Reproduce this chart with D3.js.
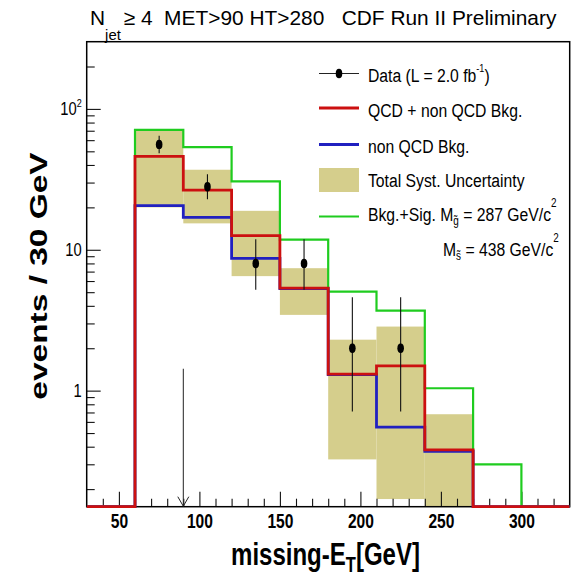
<!DOCTYPE html>
<html>
<head>
<meta charset="utf-8">
<script src="https://cdn.jsdelivr.net/npm/d3@7"></script>
<style>
  html, body { margin: 0; padding: 0; background: #fff; }
  svg { display: block; font-family: "Liberation Sans", Arial, Helvetica, sans-serif; }
  text { white-space: pre; }
</style>
</head>
<body>
<svg id="chart" width="576" height="577"></svg>
<script>
// Missing-ET spectrum, N_jet >= 4, 30 GeV bins
const binEdges    = [30, 60, 90, 120, 150, 180, 210, 240, 270, 300, 330];
const sigPlusBkg  = [0, 71, 53.5, 30.6, 11.8, 5.05, 3.7, 1.04, 0.30, 0];
const totalBkg    = [0, 46, 26.5, 12.6, 5.35, 1.31, 1.5, 0.38, 0, 0];
const nonQcdBkg   = [0, 20.6, 17.0, 8.7, 5.3, 1.3, 0.55, 0.37, 0, 0];
const systLow     = [null, 20.0, 15.4, 6.5, 3.45, 0.325, 0.17, 0, null, null];
const systHigh    = [null, 70.5, 37, 18.9, 7.4, 2.3, 2.85, 0.68, null, null];

const dataMet     = [75, 105, 135, 165, 195, 225];
const dataCounts  = [56, 28, 8, 8, 2, 2];
const dataErrLow  = [48.5, 22.8, 5.2, 5.2, 0.71, 0.71];
const dataErrHigh = [64.5, 34.4, 11.9, 11.9, 4.6, 4.6];

const xMajorTicks = [50, 100, 150, 200, 250, 300];
const yMajorTicks = [1, 10, 100];
const cutMet = 90, cutArrowTop = 1.43;

const xDomain = [30, 330], yDomain = [0.15, 300];

const colGreen = "#1fcc1f", colRed = "#cc1010", colBlue = "#2020c0", colBand = "#d5ce8c";

const svg = d3.select("#chart");
const frame = { left: 86.7, right: 569.7, top: 41.7, bottom: 506.7 };

const x = d3.scaleLinear().domain(xDomain).range([frame.left, frame.right]);
const y = d3.scaleLog().domain(yDomain).range([frame.bottom, frame.top]);
const yv = v => (v > yDomain[0] ? y(v) : y(yDomain[0]));

const defs = svg.append("defs");
defs.append("clipPath").attr("id", "bandClip")
  .append("rect").attr("x", frame.left).attr("y", frame.top)
  .attr("width", frame.right - frame.left).attr("height", frame.bottom - frame.top);
defs.append("clipPath").attr("id", "lineClip")
  .append("rect").attr("x", frame.left).attr("y", frame.top)
  .attr("width", frame.right - frame.left).attr("height", frame.bottom - frame.top + 2);

// systematic uncertainty band
const bandBins = systLow.map((lo, i) => ({ lo, hi: systHigh[i], x0: binEdges[i], x1: binEdges[i + 1] }))
  .filter(d => d.lo !== null);
svg.append("g").attr("clip-path", "url(#bandClip)")
  .selectAll("rect.band").data(bandBins).join("rect")
  .attr("class", "band")
  .attr("x", d => x(d.x0)).attr("width", d => x(d.x1) - x(d.x0))
  .attr("y", d => yv(d.hi)).attr("height", d => yv(d.lo) - yv(d.hi))
  .attr("fill", colBand);

// axes: ticks pointing into the frame
const xMinor = d3.range(xDomain[0] + 10, xDomain[1], 10).filter(v => !xMajorTicks.includes(v));
const xAxisMinor = d3.axisBottom(x).tickValues(xMinor).tickSizeInner(-8).tickSizeOuter(0).tickFormat("");
const xAxisMajor = d3.axisBottom(x).tickValues(xMajorTicks).tickSizeInner(-15).tickSizeOuter(0).tickPadding(7);
const gxMinor = svg.append("g").attr("transform", `translate(0,${frame.bottom})`).call(xAxisMinor);
const gxMajor = svg.append("g").attr("transform", `translate(0,${frame.bottom})`).call(xAxisMajor);
[gxMinor, gxMajor].forEach(g => {
  g.select(".domain").remove();
  g.selectAll("line").attr("stroke", "#111").attr("stroke-width", 1.1);
});
gxMajor.selectAll("text")
  .attr("font-family", "Liberation Sans, Arial, sans-serif")
  .attr("font-size", 20).attr("font-weight", "bold").attr("fill", "#000")
  .attr("transform", "scale(0.78,1)");

const yMinor = [];
[0.1, 1, 10, 100].forEach(dec => d3.range(2, 10).forEach(k => {
  const v = +(k * dec).toPrecision(3);
  if (v > yDomain[0] && v < yDomain[1]) yMinor.push(v);
}));
const yAxisMinor = d3.axisLeft(y).tickValues(yMinor).tickSizeInner(-8).tickSizeOuter(0).tickFormat("");
const yAxisMajor = d3.axisLeft(y).tickValues(yMajorTicks).tickSizeInner(-14).tickSizeOuter(0).tickFormat("");
const gyMinor = svg.append("g").attr("transform", `translate(${frame.left},0)`).call(yAxisMinor);
const gyMajor = svg.append("g").attr("transform", `translate(${frame.left},0)`).call(yAxisMajor);
[gyMinor, gyMajor].forEach(g => {
  g.select(".domain").remove();
  g.selectAll("line").attr("stroke", "#111").attr("stroke-width", 1.1);
});

// y tick labels as powers of ten
const yLab = svg.append("g").attr("font-size", 18).attr("fill", "#000");
yMajorTicks.forEach(v => {
  const e = Math.round(Math.log10(v));
  const t = yLab.append("text").attr("x", frame.left - 5).attr("y", y(v) + 6.5).attr("text-anchor", "end");
  if (e >= 2) {
    t.append("tspan").text("10");
    t.append("tspan").attr("font-size", 11).attr("dy", -8).text(String(e));
  } else {
    t.text(String(v));
  }
  const cx = frame.left - 5;
  t.attr("transform", `translate(${cx},0) scale(0.82,1) translate(${-cx},0)`);
});

// frame
svg.append("rect").attr("x", frame.left).attr("y", frame.top)
  .attr("width", frame.right - frame.left).attr("height", frame.bottom - frame.top)
  .attr("fill", "none").attr("stroke", "#000").attr("stroke-width", 1.5);

// step histograms, drawn over the frame so empty bins run along the bottom edge
const plot = svg.append("g").attr("clip-path", "url(#lineClip)");
function stepPoints(vals) {
  const pts = vals.map((v, i) => [binEdges[i], v]);
  pts.push([binEdges[vals.length], vals[vals.length - 1]]);
  return pts;
}
const stepLine = d3.line().x(d => x(d[0])).y(d => yv(d[1])).curve(d3.curveStepAfter);

plot.append("path").attr("d", stepLine(stepPoints(sigPlusBkg)))
  .attr("fill", "none").attr("stroke", colGreen).attr("stroke-width", 2.2);
plot.append("path").attr("d", stepLine(stepPoints(nonQcdBkg)))
  .attr("fill", "none").attr("stroke", colBlue).attr("stroke-width", 2.8);
plot.append("path").attr("d", stepLine(stepPoints(totalBkg)))
  .attr("fill", "none").attr("stroke", colRed).attr("stroke-width", 2.8);

// data points with asymmetric errors
const pts = dataMet.map((m, i) => ({ m, n: dataCounts[i], lo: dataErrLow[i], hi: dataErrHigh[i] }));
plot.selectAll("line.err").data(pts).join("line")
  .attr("x1", d => x(d.m)).attr("x2", d => x(d.m))
  .attr("y1", d => yv(d.hi)).attr("y2", d => yv(d.lo))
  .attr("stroke", "#111").attr("stroke-width", 1.1);
plot.selectAll("ellipse.pt").data(pts).join("ellipse")
  .attr("cx", d => x(d.m)).attr("cy", d => y(d.n))
  .attr("rx", 3.3).attr("ry", 4.7).attr("fill", "#000");

// cut arrow
const arrow = svg.append("g").attr("stroke", "#222").attr("stroke-width", 1).attr("fill", "none");
arrow.append("line").attr("x1", x(cutMet)).attr("x2", x(cutMet))
  .attr("y1", y(cutArrowTop)).attr("y2", y(yDomain[0]) - 0.5);
arrow.append("path")
  .attr("d", `M${x(cutMet) - 5.5},${y(yDomain[0]) - 10} L${x(cutMet)},${y(yDomain[0]) - 0.5} L${x(cutMet) + 5.5},${y(yDomain[0]) - 10}`);

// horizontal squeeze helper for text
function squeeze(node, anchorX, width) {
  const w = node.getBBox().width;
  const s = width / w;
  d3.select(node).attr("transform", `translate(${anchorX},0) scale(${s},1) translate(${-anchorX},0)`);
  return s;
}

// title
const title = svg.append("text").attr("x", 90).attr("y", 25).attr("font-size", 21).attr("fill", "#000");
title.append("tspan").text("N");
title.append("tspan").attr("font-size", 15).attr("dy", 15).text("jet");
title.append("tspan").attr("dy", -15).attr("dx", -3).text(" \u2265 4  MET>90 HT>280   CDF Run II Preliminary");
squeeze(title.node(), 90, 467);

// axis titles
const xTitle = svg.append("text").attr("x", 325.5).attr("y", 565).attr("text-anchor", "middle")
  .attr("font-size", 32).attr("font-weight", "bold").attr("fill", "#000");
xTitle.append("tspan").text("missing-E");
xTitle.append("tspan").attr("font-size", 22).attr("dy", 7).text("T");
xTitle.append("tspan").attr("dy", -7).text("[GeV]");
squeeze(xTitle.node(), 325.5, 189);

const yTitle = svg.append("text").attr("text-anchor", "middle")
  .attr("font-size", 32).attr("font-weight", "bold").attr("fill", "#000")
  .text("events / 30 GeV");
const yLen = yTitle.node().getBBox().width;
yTitle.attr("transform", `translate(47,276) rotate(-90) scale(${248 / yLen},0.72)`);

// legend
const leg = svg.append("g");
const lx0 = 319, lx1 = 359, tx = 368;
leg.append("line").attr("x1", lx0).attr("x2", lx1).attr("y1", 73.5).attr("y2", 73.5)
  .attr("stroke", "#222").attr("stroke-width", 1.1);
leg.append("ellipse").attr("cx", (lx0 + lx1) / 2).attr("cy", 73.5).attr("rx", 3.3).attr("ry", 4.7).attr("fill", "#000");
leg.append("line").attr("x1", lx0).attr("x2", lx1).attr("y1", 108).attr("y2", 108)
  .attr("stroke", colRed).attr("stroke-width", 2.8);
leg.append("line").attr("x1", lx0).attr("x2", lx1).attr("y1", 144.5).attr("y2", 144.5)
  .attr("stroke", colBlue).attr("stroke-width", 2.8);
leg.append("rect").attr("x", lx0).attr("y", 168).attr("width", lx1 - lx0).attr("height", 24).attr("fill", colBand);
leg.append("line").attr("x1", lx0).attr("x2", lx1).attr("y1", 216.5).attr("y2", 216.5)
  .attr("stroke", colGreen).attr("stroke-width", 2.2);

const legFont = 19;
const lt = [];
let t;
t = leg.append("text").attr("x", tx).attr("y", 82);
t.append("tspan").text("Data (L = 2.0 fb");
t.append("tspan").attr("font-size", 11).attr("dy", -10).text("-1");
t.append("tspan").attr("dy", 10).text(")");
lt.push(t);
t = leg.append("text").attr("x", tx).attr("y", 117.5).text("QCD + non QCD Bkg."); lt.push(t);
t = leg.append("text").attr("x", tx).attr("y", 153).text("non QCD Bkg."); lt.push(t);
const tTotal = leg.append("text").attr("x", tx).attr("y", 187).text("Total Syst. Uncertainty"); lt.push(tTotal);
t = leg.append("text").attr("x", tx).attr("y", 221);
t.append("tspan").text("Bkg.+Sig. M");
t.append("tspan").attr("font-size", 12).attr("dy", 4).text("g\u0303");
t.append("tspan").attr("dy", -4).text(" = 287 GeV/c");
t.append("tspan").attr("font-size", 12).attr("dy", -14).text("2");
lt.push(t);
const tM2 = leg.append("text").attr("x", 443).attr("y", 256.5);
tM2.append("tspan").text("M");
tM2.append("tspan").attr("font-size", 12).attr("dy", 4).text("s\u0303");
tM2.append("tspan").attr("dy", -4).text(" = 438 GeV/c");
tM2.append("tspan").attr("font-size", 12).attr("dy", -14).text("2");
lt.push(tM2);
lt.forEach(s => s.attr("font-size", legFont).attr("fill", "#000"));
const legScale = tTotal.node().getBBox().width;
const sLeg = 157 / legScale;
lt.forEach(s => {
  const ax = +s.attr("x");
  s.attr("transform", `translate(${ax},0) scale(${sLeg},1) translate(${-ax},0)`);
});
</script>
</body>
</html>
